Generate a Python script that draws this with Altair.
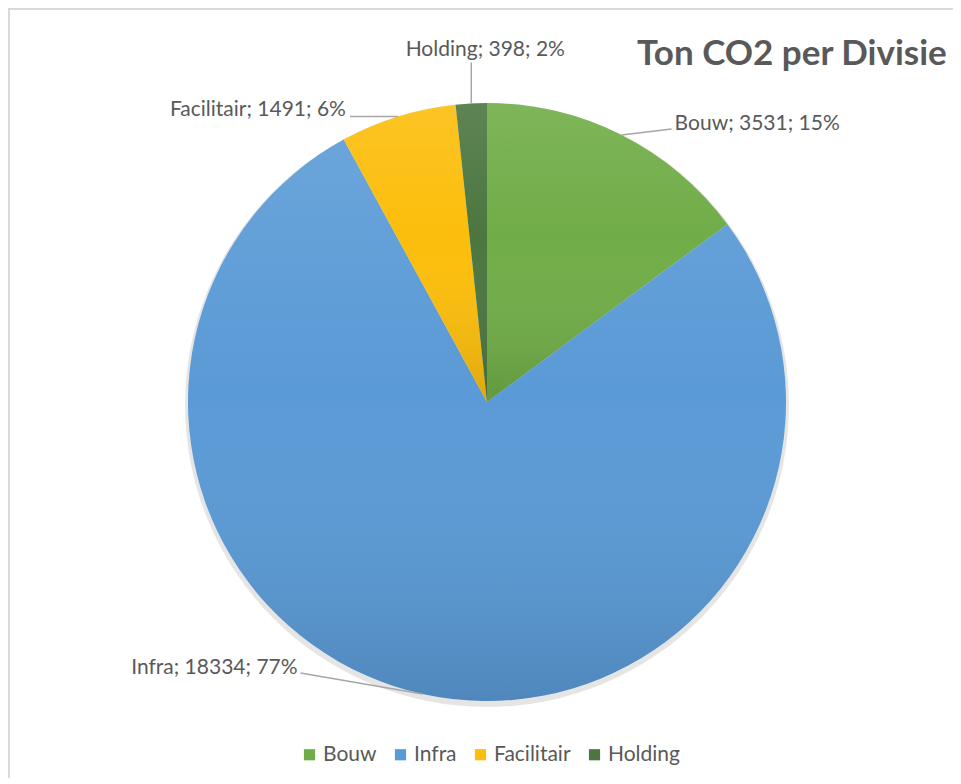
import math
import altair as alt
import pandas as pd

# ---- data ----
categories = ["Bouw", "Infra", "Facilitair", "Holding"]
values = [3531, 18334, 1491, 398]
colors = ["#70AD47", "#5A9AD6", "#FCBE0C", "#4C7640"]
title_text = "Ton CO2 per Divisie"

# ---- layout (pixels) ----
W, H = 945, 770
CX, CY = 479, 394
R = 299
leader_dx = [50, -122, -48, 0]
leader_dy = [-6, -21, 0, -41]
text_dx = [3, -3, -4, 14]
text_dy = [1, 1, -1, -6]
text_align = ["left", "right", "right", "center"]

FONT = "Lato"
GRAY = "#595959"

total = sum(values)
rows = []
cum = 0
for i, (c, v) in enumerate(zip(categories, values)):
    mid = (cum + v / 2) / total * 2 * math.pi
    cum += v
    mx = R * math.sin(mid)
    my = -R * math.cos(mid)
    ex = mx + leader_dx[i]
    ey = my + leader_dy[i]
    rows.append(dict(cat=c, value=v, order=i,
                     label=f"{c}; {v}; {round(v / total * 100)}%",
                     cx=0.0, cy=0.0, mx=mx, my=my, ex=ex, ey=ey,
                     tx=ex + text_dx[i], ty=ey + text_dy[i], align=text_align[i]))
df = pd.DataFrame(rows)

xs = alt.Scale(domain=[-CX, W - CX], nice=False, zero=False)
ys = alt.Scale(domain=[-CY, H - CY], nice=False, zero=False, reverse=True)
X0 = alt.X("cx:Q", scale=xs, axis=None)
Y0 = alt.Y("cy:Q", scale=ys, axis=None)

base = alt.Chart(df)

shadow = base.transform_filter("datum.order == 0").mark_arc(
    outerRadius=R + 3, theta=0, theta2=2 * math.pi, color="#000000", opacity=0.10, yOffset=3
).encode(x=X0, y=Y0)

pie = base.mark_arc(outerRadius=R).encode(
    theta=alt.Theta("value:Q", stack=True),
    order=alt.Order("order:Q"),
    color=alt.Color("cat:N", scale=alt.Scale(domain=categories, range=colors),
                    legend=alt.Legend(title=None, orient="none", legendX=291, legendY=736,
                                      direction="horizontal", symbolType="square",
                                      symbolSize=125, symbolStrokeWidth=0, padding=0,
                                      labelFontSize=21, labelColor=GRAY, labelFont=FONT,
                                      columnPadding=13, labelOffset=3)),
    x=X0, y=Y0,
)

shade = alt.LinearGradient(
    gradient="linear", x1=0, y1=0, x2=0, y2=1,
    stops=[alt.GradientStop(color="rgba(255,255,255,0.10)", offset=0),
           alt.GradientStop(color="rgba(255,255,255,0.0)", offset=0.45),
           alt.GradientStop(color="rgba(0,0,0,0.12)", offset=1)],
)
overlay = base.mark_arc(outerRadius=R, fill=shade, stroke=None).encode(
    theta=alt.Theta("value:Q", stack=True),
    order=alt.Order("order:Q"),
    x=X0, y=Y0,
)

leaders = base.mark_rule(color="#A6A6A6", strokeWidth=1.5).encode(
    x=alt.X("mx:Q", scale=xs, axis=None), y=alt.Y("my:Q", scale=ys, axis=None),
    x2="ex:Q", y2="ey:Q",
)

def label_layer(al):
    return base.transform_filter(f"datum.align == '{al}'").mark_text(
        align=al, baseline="alphabetic", fontSize=21, font=FONT, color=GRAY
    ).encode(x=alt.X("tx:Q", scale=xs, axis=None), y=alt.Y("ty:Q", scale=ys, axis=None),
             text="label:N")

title = alt.Chart(pd.DataFrame({"t": [title_text]})).mark_text(
    align="left", baseline="alphabetic", fontSize=35, fontWeight="bold", font=FONT, color=GRAY
).encode(x=alt.value(629), y=alt.value(57), text="t:N")

border_top = alt.Chart(df).transform_filter("datum.order == 0").mark_rule(
    color="#D9D9D9", strokeWidth=2).encode(x=alt.value(0), x2=alt.value(W), y=alt.value(1))
border_left = alt.Chart(df).transform_filter("datum.order == 0").mark_rule(
    color="#D9D9D9", strokeWidth=2).encode(x=alt.value(1), y=alt.value(0), y2=alt.value(H))

chart = alt.layer(
    border_top, border_left, shadow, pie, overlay, leaders,
    label_layer("left"), label_layer("right"), label_layer("center"), title,
).properties(
    width=W, height=H, padding=0, autosize=alt.AutoSizeParams(type="none"),
).configure_view(stroke=None)

chart.save("out.html", embed_options={"renderer": "svg", "actions": False})
